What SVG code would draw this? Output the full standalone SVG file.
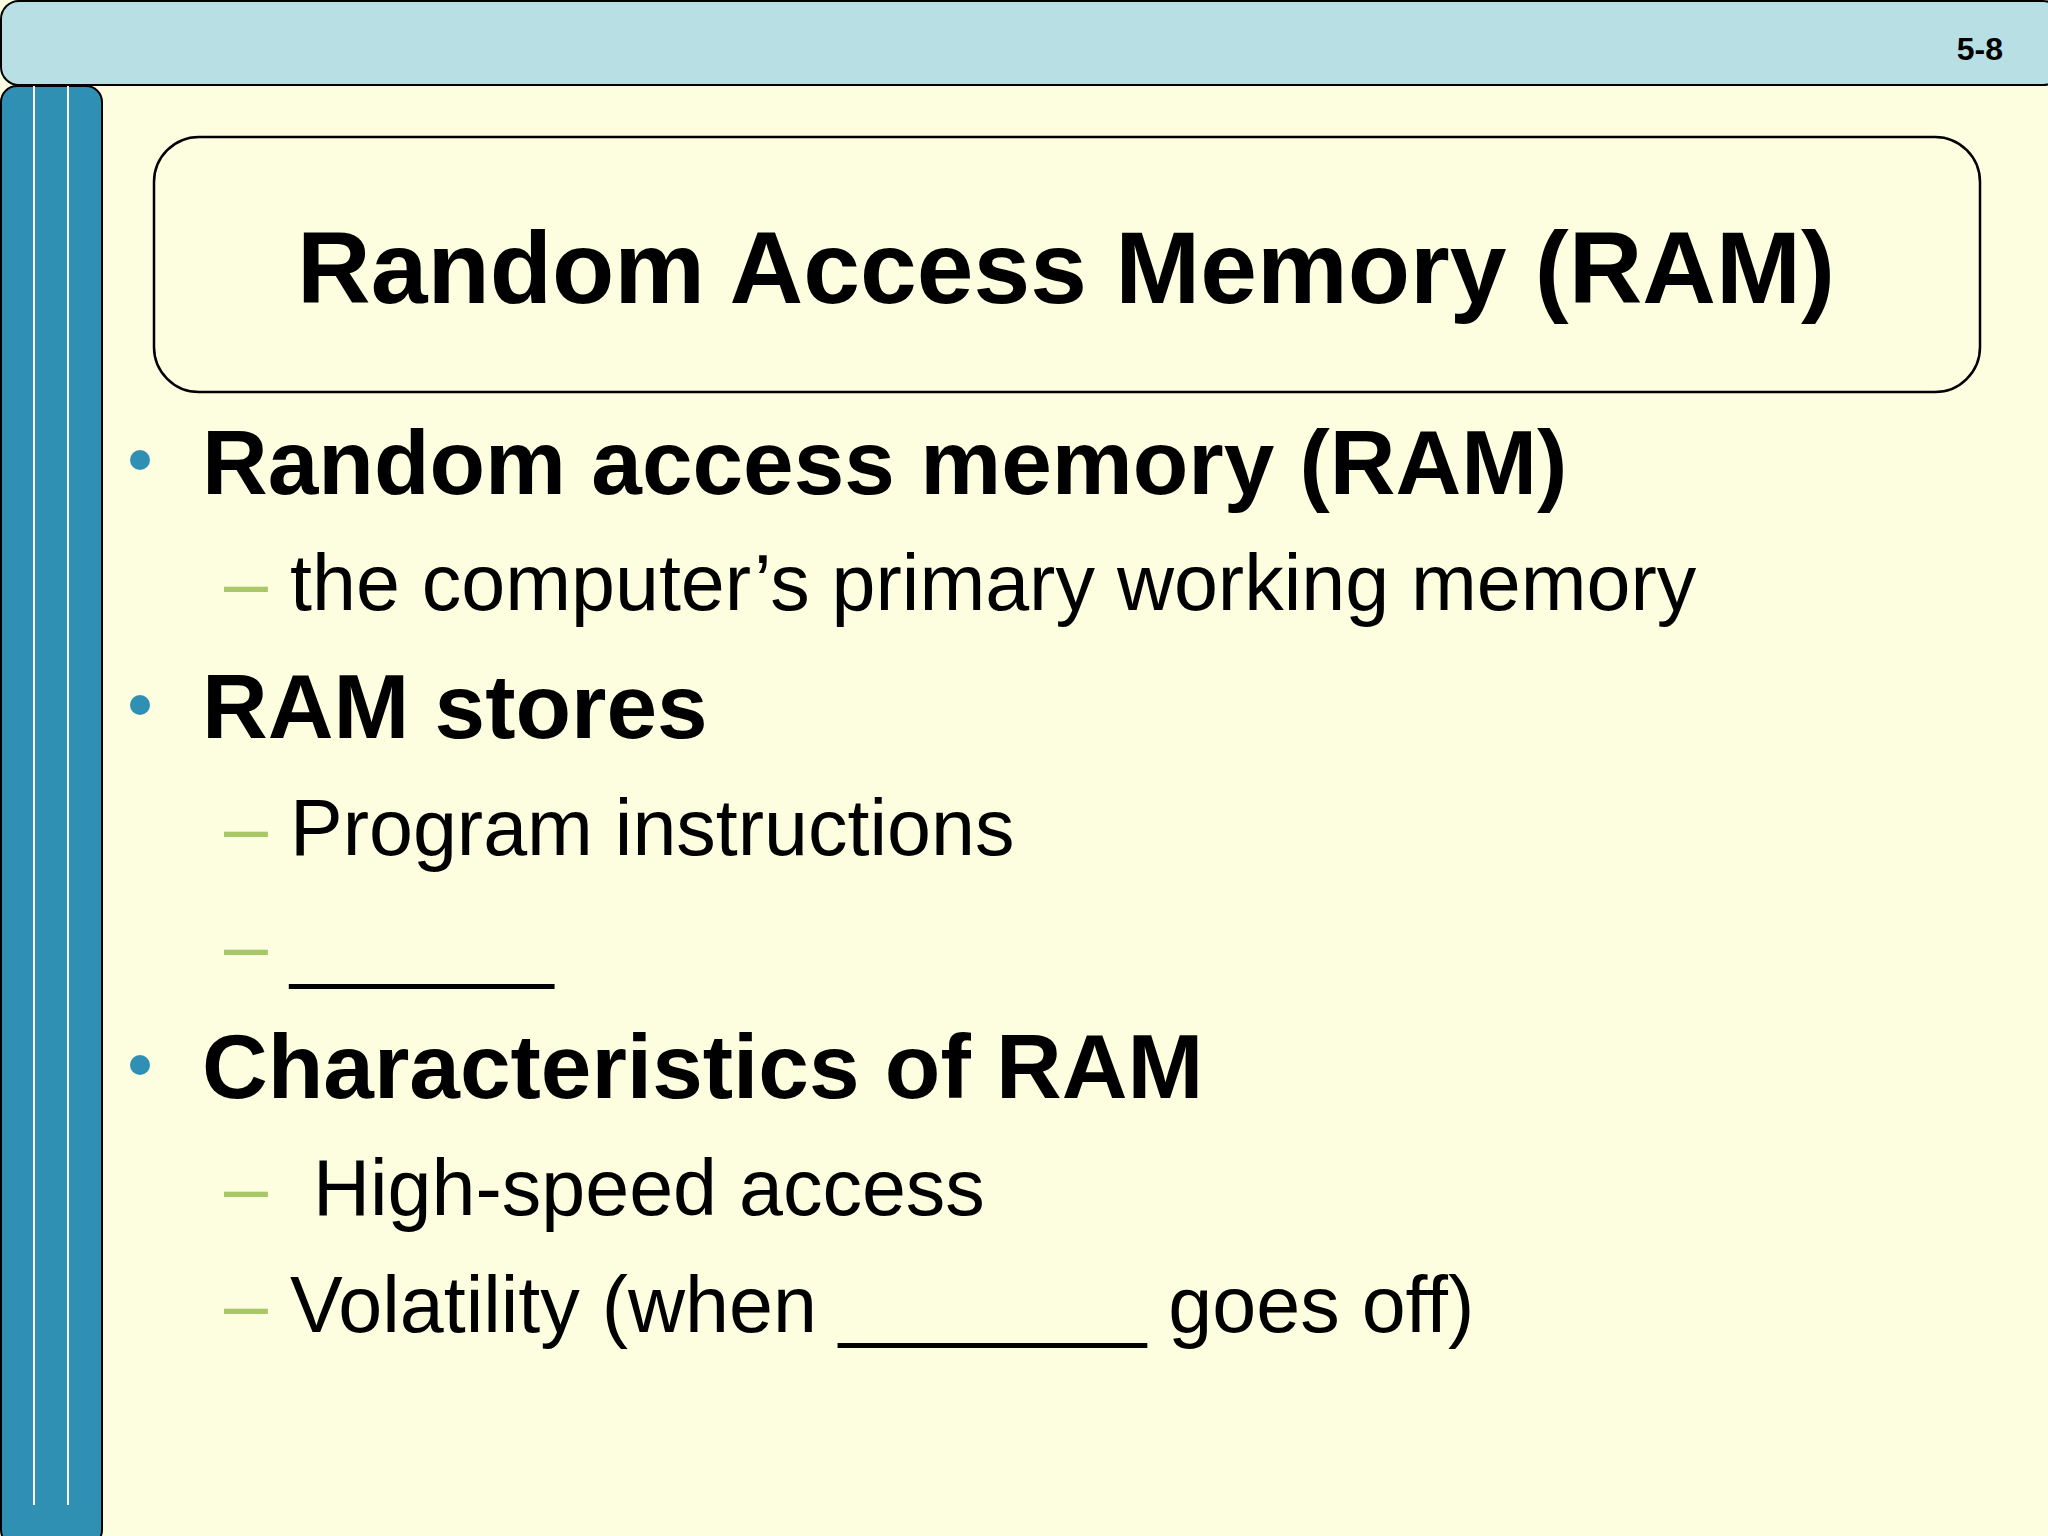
<svg xmlns="http://www.w3.org/2000/svg" width="2048" height="1536" viewBox="0 0 2048 1536">
<style>
.b{font-family:"Liberation Sans",Arial,sans-serif;font-weight:bold;fill:#000}
.n{font-family:"Liberation Sans",Arial,sans-serif;fill:#000}
.d{fill:#a8c868;font-family:"Liberation Sans",Arial,sans-serif}
.dot{fill:#3090b4}
</style>
<rect width="2048" height="1536" fill="#fdfde0"/>
<g id="header"><rect x="1" y="1" width="2060" height="84" rx="18" fill="#b8e0e4" stroke="#000" stroke-width="2"/>
<text class="b" x="2003" y="60" font-size="32" text-anchor="end">5-8</text></g>
<g id="sidebar"><rect x="1" y="86" width="101" height="1460" rx="16" fill="#3090b4" stroke="#000" stroke-width="2"/>
<line x1="34" y1="86" x2="34" y2="1505" stroke="#fff" stroke-width="2"/>
<line x1="68" y1="86" x2="68" y2="1505" stroke="#fff" stroke-width="2"/></g>
<g id="title"><rect x="154" y="137" width="1826" height="255" rx="45" fill="none" stroke="#000" stroke-width="2.5"/>
<text class="b" x="1066" y="303" font-size="102" text-anchor="middle">Random Access Memory (RAM)</text></g>
<g id="body">
<circle class="dot" cx="140" cy="460" r="10"/>
<text class="b" x="202" y="494" font-size="91">Random access memory (RAM)</text>
<text class="d" x="224" y="610" font-size="79">–</text>
<text class="n" x="290" y="610" font-size="79">the computer’s primary working memory</text>
<circle class="dot" cx="140" cy="705" r="10"/>
<text class="b" x="202" y="738" font-size="91">RAM stores</text>
<text class="d" x="224" y="855" font-size="79">–</text>
<text class="n" x="290" y="855" font-size="79">Program instructions</text>
<text class="d" x="224" y="973" font-size="79">–</text>
<text class="n" x="290" y="973" font-size="79">______</text>
<circle class="dot" cx="140" cy="1065" r="10"/>
<text class="b" x="202" y="1098" font-size="91">Characteristics of RAM</text>
<text class="d" x="224" y="1215" font-size="79">–</text>
<text class="n" x="313" y="1215" font-size="79">High-speed access</text>
<text class="d" x="224" y="1332" font-size="79">–</text>
<text class="n" x="290" y="1332" font-size="79">Volatility (when _______ goes off)</text>
</g>
</svg>
